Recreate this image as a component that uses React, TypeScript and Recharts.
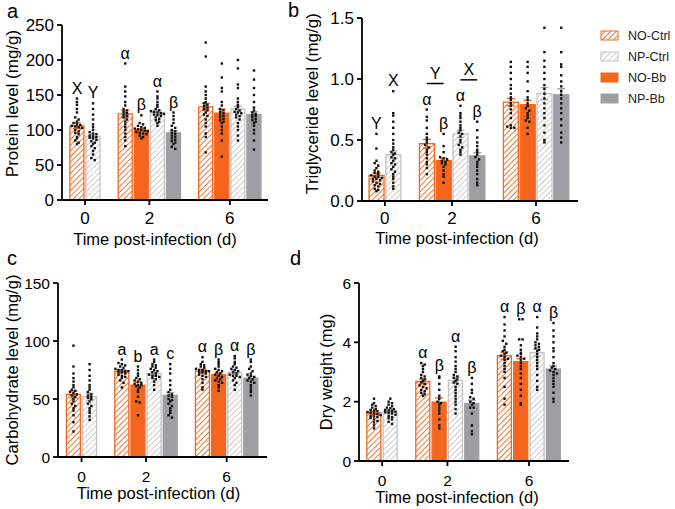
import React from "react";
import { ComposedChart, Bar, ErrorBar, Scatter, XAxis, YAxis, Legend, Label } from "recharts";

const FONT = "'Liberation Sans', Arial, Helvetica, sans-serif";
const ORANGE = "#F4661E";
const GRAY = "#9E9FA2";
const LIGHT = "#C4C4C4";

const days = ["0", "2", "6"];
const seriesNames = ["NO-Ctrl", "NO-Bb", "NP-Ctrl", "NP-Bb"];
const legendOrder = ["NO-Ctrl", "NP-Ctrl", "NO-Bb", "NP-Bb"];

// one entry per drawn bar, left to right
const barSeries = ["NO-Ctrl", "NP-Ctrl", "NO-Ctrl", "NO-Bb", "NP-Ctrl", "NP-Bb", "NO-Ctrl", "NO-Bb", "NP-Ctrl", "NP-Bb"];
const barDay = [0, 0, 1, 1, 1, 1, 2, 2, 2, 2];

// a: protein
const proteinMean = [106, 91, 123, 100, 125, 96, 133, 124, 130, 122];
const proteinSem = [4, 3, 5, 2, 3, 3, 5, 6, 4, 4];
const proteinLetters = ["X", "Y", "α", "β", "α", "β", "", "", "", ""];
const proteinDots = [
  [145, 140, 136, 130, 125, 118, 115, 112, 110, 108, 107, 106, 105, 104, 103, 100, 98, 96, 94, 90, 88, 85, 82, 80],
  [138, 130, 122, 115, 108, 104, 100, 97, 95, 94, 92, 91, 90, 89, 88, 86, 84, 82, 80, 77, 74, 70, 65, 60, 57],
  [195, 162, 155, 148, 140, 135, 130, 128, 126, 124, 122, 120, 118, 115, 112, 108, 104, 100, 95, 90, 85, 77],
  [121, 110, 108, 106, 104, 103, 102, 101, 100, 99, 98, 97, 96, 95, 94, 92, 90, 88],
  [155, 148, 145, 140, 136, 133, 130, 128, 127, 126, 125, 124, 123, 122, 121, 120, 118, 116, 114, 112, 110, 106],
  [125, 120, 115, 110, 106, 103, 100, 98, 96, 94, 92, 90, 88, 86, 84, 82, 80, 76, 73],
  [225, 205, 162, 155, 150, 145, 140, 138, 136, 134, 132, 130, 128, 125, 122, 120, 115, 110, 105, 95, 90, 68],
  [195, 175, 160, 155, 140, 135, 130, 128, 126, 124, 122, 120, 118, 116, 114, 112, 110, 105, 100, 95, 85, 62],
  [200, 188, 165, 160, 145, 140, 136, 133, 130, 128, 126, 125, 124, 122, 120, 118, 115, 110, 105, 100, 92, 85],
  [185, 172, 160, 150, 140, 132, 128, 125, 123, 121, 120, 118, 116, 114, 112, 110, 106, 100, 95, 85, 72],
];

// b: triglyceride
const trigMean = [0.21, 0.38, 0.47, 0.33, 0.55, 0.37, 0.81, 0.79, 0.88, 0.87];
const trigSem = [0.02, 0.03, 0.035, 0.02, 0.03, 0.025, 0.03, 0.035, 0.05, 0.05];
const trigLetters = ["Y", "X", "α", "β", "α", "β", "", "", "", ""];
const trigPairs = [
  { bars: [2, 3], text: "Y" },
  { bars: [4, 5], text: "X" },
];
const trigDots = [
  [0.55, 0.43, 0.33, 0.31, 0.29, 0.27, 0.25, 0.24, 0.23, 0.22, 0.21, 0.2, 0.2, 0.19, 0.18, 0.18, 0.17, 0.16, 0.15, 0.14, 0.13, 0.12, 0.1, 0.09, 0.08],
  [0.9, 0.72, 0.7, 0.65, 0.6, 0.55, 0.5, 0.47, 0.44, 0.42, 0.4, 0.39, 0.38, 0.36, 0.35, 0.33, 0.31, 0.3, 0.28, 0.26, 0.24, 0.22, 0.2, 0.18, 0.15, 0.12, 0.1],
  [0.75, 0.69, 0.66, 0.6, 0.55, 0.52, 0.5, 0.48, 0.46, 0.44, 0.42, 0.4, 0.38, 0.35, 0.32, 0.3, 0.27, 0.22],
  [0.55, 0.45, 0.4, 0.36, 0.35, 0.34, 0.33, 0.32, 0.31, 0.3, 0.28, 0.25, 0.22, 0.2, 0.15],
  [0.78, 0.72, 0.7, 0.68, 0.65, 0.62, 0.6, 0.58, 0.56, 0.55, 0.53, 0.5, 0.48, 0.46, 0.44, 0.42, 0.4, 0.38],
  [0.65, 0.58, 0.52, 0.48, 0.45, 0.42, 0.4, 0.38, 0.36, 0.34, 0.32, 0.3, 0.28, 0.25, 0.22, 0.18, 0.15, 0.13],
  [1.14, 1.1, 1.05, 1.0, 0.95, 0.92, 0.88, 0.85, 0.83, 0.8, 0.78, 0.75, 0.72, 0.68, 0.62, 0.61, 0.6, 0.6],
  [1.14, 1.1, 1.05, 0.98, 0.9, 0.85, 0.83, 0.8, 0.78, 0.76, 0.74, 0.72, 0.7, 0.68, 0.66, 0.65, 0.6, 0.55],
  [1.42, 1.22, 1.15, 1.1, 1.05, 1.0, 0.95, 0.92, 0.88, 0.84, 0.8, 0.76, 0.72, 0.68, 0.62, 0.56, 0.5, 0.48],
  [1.42, 1.22, 1.12, 1.1, 1.03, 0.98, 0.94, 0.9, 0.87, 0.84, 0.8, 0.76, 0.72, 0.67, 0.62, 0.56, 0.52, 0.48],
];

// c: carbohydrate
const carbMean = [54, 52, 74, 62, 72, 53, 74, 71, 73, 68];
const carbSem = [3, 3, 1.2, 2.5, 1.5, 2.5, 1.5, 1.5, 1.5, 1.5];
const carbLetters = ["", "", "a", "b", "a", "c", "α", "β", "α", "β"];
const carbDots = [
  [96, 78, 72, 68, 65, 62, 60, 58, 57, 56, 55, 54, 53, 52, 50, 48, 46, 44, 42, 40, 36, 30, 22],
  [80, 75, 70, 66, 62, 60, 58, 56, 54, 53, 52, 51, 50, 48, 46, 44, 42, 40, 38, 35, 32],
  [84, 81, 80, 79, 78, 77, 76, 75, 75, 74, 74, 73, 73, 72, 71, 70, 69, 68, 66, 64, 60],
  [78, 75, 72, 70, 68, 67, 66, 65, 64, 63, 62, 62, 61, 60, 58, 56, 52, 48, 47, 36],
  [84, 82, 80, 79, 78, 77, 76, 75, 74, 73, 72, 71, 70, 70, 69, 68, 67, 65, 62, 58],
  [80, 76, 72, 66, 62, 58, 56, 54, 53, 52, 50, 49, 48, 46, 44, 42, 40, 38, 36, 34],
  [86, 82, 80, 79, 78, 77, 76, 75, 75, 74, 74, 73, 73, 72, 71, 70, 69, 67, 64, 60, 58],
  [84, 82, 80, 78, 76, 75, 74, 73, 72, 71, 70, 69, 68, 67, 66, 65, 64, 62, 60, 57],
  [87, 85, 82, 80, 78, 77, 76, 75, 74, 73, 72, 71, 70, 70, 69, 68, 66, 64, 62, 58],
  [84, 82, 78, 76, 74, 72, 71, 70, 69, 68, 67, 66, 65, 64, 62, 60, 58, 56, 53],
];

// d: dry weight
const dryMean = [1.62, 1.68, 2.68, 1.98, 2.72, 1.93, 3.55, 3.35, 3.65, 3.1];
const drySem = [0.05, 0.05, 0.08, 0.15, 0.1, 0.12, 0.12, 0.1, 0.12, 0.1];
const dryLetters = ["", "", "α", "β", "α", "β", "α", "β", "α", "β"];
const dryDots = [
  [2.1, 1.95, 1.9, 1.85, 1.8, 1.75, 1.72, 1.7, 1.68, 1.65, 1.63, 1.6, 1.58, 1.55, 1.52, 1.5, 1.48, 1.45, 1.4, 1.35, 1.3, 1.2, 1.1],
  [2.1, 2.0, 1.95, 1.9, 1.85, 1.8, 1.78, 1.75, 1.72, 1.7, 1.68, 1.66, 1.64, 1.62, 1.6, 1.56, 1.52, 1.48, 1.44, 1.4, 1.32, 1.25],
  [3.3, 3.25, 3.2, 3.1, 3.0, 2.9, 2.85, 2.8, 2.75, 2.7, 2.65, 2.6, 2.55, 2.5, 2.45, 2.4, 2.35, 2.3, 2.25, 2.2],
  [2.85, 2.8, 2.6, 2.4, 2.2, 2.1, 2.0, 1.95, 1.9, 1.8, 1.7, 1.6, 1.4, 1.2, 1.1],
  [3.85, 3.7, 3.5, 3.35, 3.2, 3.1, 3.0, 2.9, 2.85, 2.8, 2.75, 2.7, 2.65, 2.6, 2.5, 2.4, 2.3, 2.2, 2.1, 2.0, 1.9, 1.75, 1.6],
  [2.8, 2.6, 2.4, 2.3, 2.15, 2.1, 2.0, 1.95, 1.9, 1.8, 1.8, 1.6, 1.2, 1.0, 0.9],
  [4.85, 4.6, 4.4, 4.2, 4.05, 3.95, 3.85, 3.75, 3.7, 3.65, 3.6, 3.55, 3.5, 3.45, 3.4, 3.3, 3.2, 3.1, 3.0, 2.8, 2.5, 2.1, 1.9],
  [4.78, 4.78, 4.1, 4.1, 3.9, 3.75, 3.65, 3.6, 3.55, 3.5, 3.45, 3.4, 3.3, 3.2, 3.1, 2.95, 2.8, 2.6, 2.4, 2.2, 1.95, 1.9],
  [4.85, 4.5, 4.3, 4.2, 4.1, 4.0, 3.95, 3.9, 3.85, 3.8, 3.75, 3.7, 3.6, 3.5, 3.4, 3.3, 3.2, 3.1, 2.9, 2.7, 2.5, 2.4],
  [4.65, 4.4, 4.2, 4.0, 3.8, 3.7, 3.5, 3.3, 3.2, 3.15, 3.1, 3.05, 3.0, 2.95, 2.9, 2.8, 2.7, 2.6, 2.5, 2.3, 2.1, 2.0],
];

// bar slots with an empty slot between days
const slots: number[] = [];
barDay.forEach((d, i) => {
  if (i === 0) slots.push(0);
  else slots.push(slots[i - 1] + (d !== barDay[i - 1] ? 2 : 1));
});
const dayTicks = days.map((_, d) => {
  const s = slots.filter((_, i) => barDay[i] === d);
  return (s[0] + s[s.length - 1]) / 2;
});

const fillOf = (id: string, s: string) =>
  s === "NO-Ctrl" ? `url(#${id}-ho)` : s === "NP-Ctrl" ? `url(#${id}-hg)` : s === "NO-Bb" ? ORANGE : GRAY;
const strokeOf = (s: string) => (s === "NO-Ctrl" || s === "NO-Bb" ? ORANGE : s === "NP-Ctrl" ? LIGHT : GRAY);
const errOf = (s: string) => (s === "NO-Ctrl" || s === "NO-Bb" ? ORANGE : s === "NP-Ctrl" ? "#B5B5B5" : GRAY);

// spread dots sideways when they share a value bin
function swarm(values: number[], slot: number, bin: number) {
  const groups = new Map<number, number[]>();
  values.forEach((v) => {
    const k = Math.round(v / bin);
    if (!groups.has(k)) groups.set(k, []);
    groups.get(k)!.push(v);
  });
  const out: { x: number; y: number }[] = [];
  groups.forEach((vs) => {
    vs.forEach((v, j) => {
      const off = Math.max(-0.4, Math.min(0.4, (j - (vs.length - 1) / 2) * 0.21));
      out.push({ x: slot + off, y: v });
    });
  });
  return out;
}

const DotShape = (p: any) => <rect x={p.cx - 1.2} y={p.cy - 1.2} width={2.4} height={2.4} fill="#111" />;

const LetterShape = (p: any) => (
  <text x={p.cx} y={p.cy - 5} textAnchor="middle" fontSize={16} fontFamily={FONT} fill="#000">
    {p.payload.text}
  </text>
);

const BracketShape = (p: any) => (
  <g>
    <line x1={p.cx - 8.4} x2={p.cx + 8.4} y1={p.cy - 26} y2={p.cy - 26} stroke="#000" strokeWidth={1.5} />
    <text x={p.cx} y={p.cy - 31} textAnchor="middle" fontSize={16} fontFamily={FONT} fill="#000">
      {p.payload.text}
    </text>
  </g>
);

function LegendBox() {
  return (
    <div style={{ fontFamily: FONT, fontSize: 12.5, color: "#222" }}>
      {legendOrder.map((s) => (
        <div key={s} style={{ display: "flex", alignItems: "center", height: 21 }}>
          <svg width={19} height={11} style={{ display: "block" }}>
            <rect x={1} y={1} width={17} height={9} fill={fillOf("b", s)} stroke={strokeOf(s)} strokeWidth={1} />
          </svg>
          <span style={{ marginLeft: 9 }}>{s}</span>
        </div>
      ))}
    </div>
  );
}

type PanelProps = {
  id: string;
  left: number;
  top: number;
  width: number;
  height: number;
  margin: { top: number; right: number; bottom: number; left: number };
  yWidth: number;
  xHeight: number;
  xTickMargin: number;
  tickFont: number;
  xDomain: [number, number];
  yDomain: [number, number];
  yTicks: number[];
  yFormat?: (v: number) => string;
  mean: number[];
  sem: number[];
  dots: number[][];
  letters: string[];
  pairs?: { bars: number[]; text: string }[];
  yTitle: string;
  yTitleFont: number;
  yTitleX: number;
  yTitleDy: number;
  xTitleOffset: number;
  xTitleDx: number;
  legend?: boolean;
};

function Panel(p: PanelProps) {
  const rows = slots.map((s, i) => ({
    x: s,
    [barSeries[i]]: p.mean[i],
    [barSeries[i] + "Err"]: p.sem[i],
  }));
  const bin = (p.yDomain[1] - p.yDomain[0]) / 60;
  const dotData = p.dots.flatMap((vals, i) => swarm(vals, slots[i], bin));
  const letterData = p.letters
    .map((t, i) => ({ x: slots[i], y: Math.max(...p.dots[i]), text: t }))
    .filter((d) => d.text);
  const pairData = (p.pairs || []).map((q) => ({
    x: (slots[q.bars[0]] + slots[q.bars[1]]) / 2,
    y: Math.max(...q.bars.flatMap((b) => p.dots[b])),
    text: q.text,
  }));
  const axisStyle = { stroke: "#000", strokeWidth: 1.8 };
  const tickStyle = { fontSize: p.tickFont, fill: "#000", fontFamily: FONT };

  return (
    <div style={{ position: "absolute", left: p.left, top: p.top }}>
      <ComposedChart width={p.width} height={p.height} data={rows} margin={p.margin} barCategoryGap={1}>
        <defs>
          <pattern id={`${p.id}-ho`} patternUnits="userSpaceOnUse" width={4} height={4} patternTransform="rotate(45)">
            <rect width={4} height={4} fill="#fff" />
            <line x1={0} y1={0} x2={0} y2={4} stroke={ORANGE} strokeWidth={1.8} />
          </pattern>
          <pattern id={`${p.id}-hg`} patternUnits="userSpaceOnUse" width={4} height={4} patternTransform="rotate(45)">
            <rect width={4} height={4} fill="#fff" />
            <line x1={0} y1={0} x2={0} y2={4} stroke="#BBBBBB" strokeWidth={1.5} />
          </pattern>
        </defs>
        <XAxis
          xAxisId="bars"
          dataKey="x"
          type="number"
          domain={p.xDomain}
          allowDataOverflow
          ticks={dayTicks}
          interval={0}
          tickFormatter={(v: number) => days[dayTicks.indexOf(v)]}
          height={p.xHeight}
          axisLine={axisStyle}
          tickLine={axisStyle}
          tickSize={5}
          tickMargin={p.xTickMargin}
          tick={tickStyle}
        >
          <Label
            value="Time post-infection (d)"
            position="insideBottom"
            offset={p.xTitleOffset}
            dx={p.xTitleDx}
            style={{ fontSize: 16.5, fill: "#000", fontFamily: FONT }}
          />
        </XAxis>
        <XAxis xAxisId="dots" dataKey="x" type="number" domain={p.xDomain} allowDataOverflow hide />
        <YAxis
          type="number"
          domain={p.yDomain}
          allowDataOverflow
          ticks={p.yTicks}
          interval={0}
          tickFormatter={p.yFormat}
          width={p.yWidth}
          axisLine={axisStyle}
          tickLine={axisStyle}
          tickSize={5}
          tickMargin={3}
          tick={tickStyle}
        >
          <Label
            value={p.yTitle}
            angle={-90}
            position="insideLeft"
            offset={p.yTitleX}
            dy={p.yTitleDy}
            style={{ fontSize: p.yTitleFont, fill: "#000", fontFamily: FONT, textAnchor: "middle" }}
          />
        </YAxis>
        {seriesNames.map((s) => (
          <Bar
            key={s}
            xAxisId="bars"
            dataKey={s}
            name={s}
            stackId="m"
            fill={fillOf(p.id, s)}
            stroke={strokeOf(s)}
            strokeWidth={1.3}
            isAnimationActive={false}
          >
            <ErrorBar dataKey={s + "Err"} width={4} stroke={errOf(s)} strokeWidth={1.4} direction="y" />
          </Bar>
        ))}
        <Scatter xAxisId="dots" data={dotData} dataKey="y" shape={DotShape} isAnimationActive={false} />
        <Scatter xAxisId="dots" data={letterData} dataKey="y" shape={LetterShape} isAnimationActive={false} />
        {pairData.length > 0 && (
          <Scatter xAxisId="dots" data={pairData} dataKey="y" shape={BracketShape} isAnimationActive={false} />
        )}
        {p.legend && (
          <Legend
            layout="horizontal"
            align="center"
            verticalAlign="middle"
            wrapperStyle={{ left: 300, top: 25, width: 75 }}
            content={() => <LegendBox />}
          />
        )}
      </ComposedChart>
    </div>
  );
}

export default function App() {
  return (
    <div style={{ position: "absolute", left: 0, top: 0, width: 675, height: 509, background: "#fff", overflow: "hidden" }}>
      <Panel
        id="a"
        left={0}
        top={0}
        width={300}
        height={250}
        margin={{ top: 25, right: 32, bottom: 0, left: 0 }}
        yWidth={62}
        xHeight={50}
        xTickMargin={7}
        tickFont={17}
        xDomain={[-0.93, 11.87]}
        yDomain={[0, 250]}
        yTicks={[0, 50, 100, 150, 200, 250]}
        mean={proteinMean}
        sem={proteinSem}
        dots={proteinDots}
        letters={proteinLetters}
        yTitle="Protein level (mg/g)"
        yTitleFont={17}
        yTitleX={12}
        yTitleDy={-9}
        xTitleOffset={5}
        xTitleDx={-10}
      />
      <Panel
        id="b"
        left={300}
        top={0}
        width={375}
        height={250}
        margin={{ top: 18, right: 97, bottom: 0, left: 0 }}
        yWidth={62}
        xHeight={49}
        xTickMargin={6}
        tickFont={17}
        xDomain={[-0.86, 12.0]}
        yDomain={[0, 1.5]}
        yTicks={[0, 0.5, 1, 1.5]}
        yFormat={(v: number) => v.toFixed(1)}
        mean={trigMean}
        sem={trigSem}
        dots={trigDots}
        letters={trigLetters}
        pairs={trigPairs}
        yTitle="Triglyceride level (mg/g)"
        yTitleFont={17}
        yTitleX={12}
        yTitleDy={-6}
        xTitleOffset={6}
        xTitleDx={-13}
        legend
      />
      <Panel
        id="c"
        left={0}
        top={250}
        width={300}
        height={259}
        margin={{ top: 33, right: 33, bottom: 0, left: 0 }}
        yWidth={58}
        xHeight={52}
        xTickMargin={9}
        tickFont={15.5}
        xDomain={[-0.96, 12.0]}
        yDomain={[0, 150]}
        yTicks={[0, 50, 100, 150]}
        mean={carbMean}
        sem={carbSem}
        dots={carbDots}
        letters={carbLetters}
        yTitle="Carbohydrate level (mg/g)"
        yTitleFont={16.5}
        yTitleX={12}
        yTitleDy={0}
        xTitleOffset={10}
        xTitleDx={-4}
      />
      <Panel
        id="d"
        left={300}
        top={250}
        width={375}
        height={259}
        margin={{ top: 33, right: 106, bottom: 0, left: 0 }}
        yWidth={59}
        xHeight={48}
        xTickMargin={9}
        tickFont={15.5}
        xDomain={[-0.92, 11.95]}
        yDomain={[0, 6]}
        yTicks={[0, 2, 4, 6]}
        mean={dryMean}
        sem={drySem}
        dots={dryDots}
        letters={dryLetters}
        yTitle="Dry weight (mg)"
        yTitleFont={16.5}
        yTitleX={26}
        yTitleDy={0}
        xTitleOffset={6}
        xTitleDx={-7}
      />
      <svg width={675} height={509} style={{ position: "absolute", left: 0, top: 0, pointerEvents: "none" }}>
        <g fontFamily={FONT} fontSize={20} fill="#000">
          <text x={7} y={18}>a</text>
          <text x={288} y={17}>b</text>
          <text x={7} y={265}>c</text>
          <text x={290} y={265}>d</text>
        </g>
      </svg>
    </div>
  );
}
